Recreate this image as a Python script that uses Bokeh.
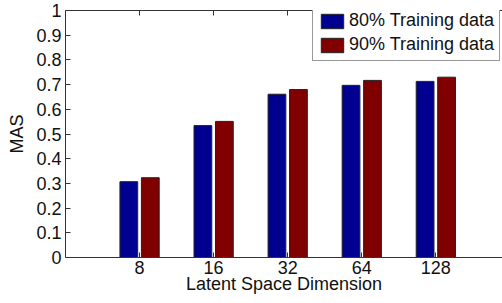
from bokeh.plotting import figure
from bokeh.models import Range1d, FixedTicker, LinearAxis, Legend, LegendItem, ColumnDataSource
from bokeh.transform import dodge
from bokeh.embed import file_html
from bokeh.resources import INLINE

# ---- data ----
dims = ["8", "16", "32", "64", "128"]
mas_80 = [0.307, 0.534, 0.661, 0.697, 0.713]
mas_90 = [0.323, 0.551, 0.680, 0.717, 0.730]
series_names = ["80% Training data", "90% Training data"]
y_ticks = [0, 0.1, 0.2, 0.3, 0.4, 0.5, 0.6, 0.7, 0.8, 0.9, 1.0]
y_tick_labels = ["0", "0.1", "0.2", "0.3", "0.4", "0.5", "0.6", "0.7", "0.8", "0.9", "1"]

xpos = [i + 1 for i in range(len(dims))]
src = ColumnDataSource(dict(x=xpos, a=mas_80, b=mas_90))

FONT = "Liberation Sans"
AX = "#333333"

p = figure(width=502, height=303, output_backend="svg", toolbar_location=None,
           x_range=Range1d(0, 5.9), y_range=Range1d(0, 1),
           min_border_left=65, min_border_right=0, min_border_top=10, min_border_bottom=46,
           x_axis_location=None, y_axis_location=None)
p.outline_line_color = None
p.grid.visible = False
p.background_fill_color = "white"

blue = "#000090"
red = "#800000"
r1 = p.vbar(x=dodge("x", -0.145), top="a", width=0.24, source=src,
            fill_color=blue, line_color="#222222", line_width=1)
r2 = p.vbar(x=dodge("x", 0.145), top="b", width=0.24, source=src,
            fill_color=red, line_color="#222222", line_width=1)

xt = FixedTicker(ticks=xpos)
yt = FixedTicker(ticks=y_ticks)

def style(ax):
    ax.axis_line_color = AX
    ax.major_tick_line_color = AX
    ax.major_tick_in = 5
    ax.major_tick_out = 0
    ax.minor_tick_line_color = None
    ax.major_label_text_font = FONT
    ax.major_label_text_font_size = "18px"
    ax.major_label_text_color = "#111111"
    ax.axis_label_text_font = FONT
    ax.axis_label_text_font_size = "18px"
    ax.axis_label_text_font_style = "normal"
    ax.axis_label_text_color = "#111111"

bottom = LinearAxis(ticker=xt, axis_label="Latent Space Dimension",
                    major_label_overrides={x: d for x, d in zip(xpos, dims)})
style(bottom)
bottom.major_label_standoff = 3
bottom.axis_label_standoff = -3
p.add_layout(bottom, "below")

left = LinearAxis(ticker=yt, axis_label="MAS",
                  major_label_overrides={t: l for t, l in zip(y_ticks, y_tick_labels)})
style(left)
left.major_label_standoff = 4
left.axis_label_standoff = 6
p.add_layout(left, "left")

top = LinearAxis(ticker=xt)
style(top)
top.major_label_text_color = None
top.major_label_standoff = 0
top.major_label_text_font_size = "0px"
p.add_layout(top, "above")

legend = Legend(items=[LegendItem(label=series_names[0], renderers=[r1]),
                       LegendItem(label=series_names[1], renderers=[r2])],
                location=(247, 196))
legend.label_text_font = FONT
legend.label_text_font_size = "18px"
legend.label_text_color = "#111111"
legend.glyph_width = 28
legend.glyph_height = 18
legend.label_height = 18
legend.label_standoff = 3
legend.spacing = 3
legend.padding = 5
legend.margin = 0
legend.border_line_color = AX
legend.border_line_width = 1
legend.background_fill_color = "white"
legend.background_fill_alpha = 1
p.add_layout(legend, "center")

open("out.html", "w").write(file_html(p, INLINE))
